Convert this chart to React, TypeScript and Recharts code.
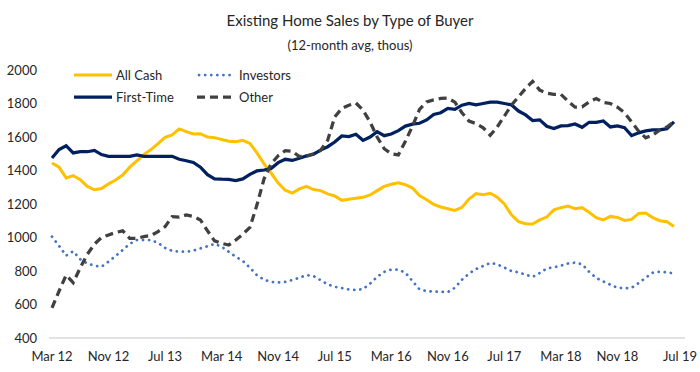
import React from "react";
import { LineChart, Line, XAxis, YAxis } from "recharts";

const months = ["Jan", "Feb", "Mar", "Apr", "May", "Jun", "Jul", "Aug", "Sep", "Oct", "Nov", "Dec"];

const allCash = [
  1445, 1420, 1355, 1370, 1345, 1305, 1285, 1292, 1320, 1343,
  1373, 1420, 1457, 1495, 1525, 1560, 1598, 1612, 1648, 1632,
  1618, 1620, 1600, 1596, 1585, 1575, 1572, 1580, 1562, 1505,
  1440, 1385, 1325, 1282, 1265, 1290, 1305, 1286, 1280, 1260,
  1248, 1222, 1228, 1234, 1240, 1254, 1280, 1305, 1318, 1326,
  1315, 1295, 1250, 1225, 1198, 1182, 1172, 1162, 1180, 1230,
  1262, 1256, 1264, 1240, 1200, 1135, 1095, 1082, 1080, 1105,
  1122, 1165, 1178, 1188, 1172, 1178, 1150, 1118, 1105, 1126,
  1120, 1102, 1108, 1144, 1146, 1118, 1100, 1094, 1066,
];

const investors = [
  1005, 950, 892, 918, 870, 845, 832, 826, 856, 890,
  925, 962, 985, 985, 985, 968, 938, 920, 915, 915,
  922, 935, 948, 962, 945, 915, 885, 860, 820, 775,
  748, 735, 732, 735, 746, 760, 775, 770, 745, 720,
  706, 698, 690, 686, 692, 725, 765, 795, 808, 808,
  790, 740, 690, 680, 677, 676, 674, 700, 748, 785,
  812, 830, 848, 840, 820, 800, 792, 778, 765, 788,
  815, 822, 832, 845, 850, 840, 795, 758, 738, 718,
  700, 697, 700, 728, 760, 790, 796, 792, 785,
];

const firstTime = [
  1475, 1525, 1548, 1505, 1512, 1512, 1520, 1495, 1485, 1485,
  1485, 1485, 1493, 1485, 1485, 1485, 1485, 1485, 1467, 1458,
  1448, 1420, 1375, 1350, 1348, 1347, 1340, 1350, 1377, 1398,
  1403, 1412, 1447, 1467, 1460, 1473, 1487, 1497, 1522, 1542,
  1570, 1606, 1602, 1616, 1580, 1600, 1632, 1608, 1618, 1638,
  1665, 1677, 1682, 1702, 1735, 1745, 1771, 1765, 1790, 1800,
  1792, 1800, 1808, 1808, 1800, 1792, 1755, 1732, 1698, 1702,
  1664, 1650, 1666, 1668, 1678, 1658, 1688, 1688, 1696, 1660,
  1666, 1655, 1608, 1625, 1636, 1642, 1642, 1650, 1690,
];

const other = [
  580, 680, 775, 730, 820, 900, 960, 1000, 1015, 1030,
  1040, 995, 995, 1005, 1012, 1035, 1065, 1125, 1122, 1135,
  1125, 1105, 1040, 980, 965, 955, 985, 1020, 1060, 1195,
  1350, 1440, 1488, 1518, 1515, 1483, 1485, 1500, 1520, 1580,
  1720, 1770, 1790, 1803, 1760, 1690, 1600, 1530, 1500, 1493,
  1575, 1665, 1765, 1810, 1822, 1830, 1832, 1808, 1745, 1695,
  1680, 1655, 1610, 1660, 1725, 1790, 1840, 1890, 1932, 1880,
  1862, 1855, 1855, 1815, 1778, 1780, 1810, 1830, 1806, 1800,
  1778, 1745, 1690, 1635, 1595, 1612, 1642, 1660, 1692,
];

const yTicks = [400, 600, 800, 1000, 1200, 1400, 1600, 1800, 2000];

const seriesNames = ["All Cash", "Investors", "First-Time", "Other"];

// Months from Mar 2012
const labels = allCash.map((_, i) => {
  const m = (2 + i) % 12;
  const y = 12 + Math.floor((2 + i) / 12);
  return `${months[m]} ${y}`;
});

const data = labels.map((label, i) => ({
  label,
  allCash: allCash[i],
  investors: investors[i],
  firstTime: firstTime[i],
  other: other[i],
}));

const FONT = "Lato, 'Liberation Sans', sans-serif";
const TEXT = "#262626";

const STYLES = [
  { key: "allCash", color: "#FFC000", width: 3, dash: undefined as string | undefined, cap: "butt" },
  { key: "investors", color: "#4472C4", width: 2.75, dash: "0.1 6", cap: "round" },
  { key: "firstTime", color: "#002060", width: 3.25, dash: undefined, cap: "butt" },
  { key: "other", color: "#404040", width: 3.25, dash: "8 5", cap: "butt" },
];

const XTick = (props: any) => {
  const { x, y, payload } = props;
  const isLast = payload && payload.index === labels.length - 1;
  return (
    <text
      x={x + (isLast ? 6 : 0)}
      y={y}
      dy="0.71em"
      textAnchor="middle"
      fontSize={13}
      fontFamily={FONT}
      fill={TEXT}
    >
      {payload.value}
    </text>
  );
};

const LegendSwatch = ({ color, dash, width, cap }: any) => (
  <svg width={40} height={8} style={{ display: "block" }}>
    <line
      x1={cap === "round" ? 2 : 0}
      y1={4}
      x2={38}
      y2={4}
      stroke={color}
      strokeWidth={width}
      strokeDasharray={dash}
      strokeLinecap={cap}
    />
  </svg>
);

const ChartLegend = () => (
  <div
    style={{
      position: "absolute",
      left: 74,
      top: 67,
      display: "grid",
      gridTemplateColumns: "123px 120px",
      rowGap: 6,
      fontFamily: FONT,
      fontSize: 13,
      color: TEXT,
    }}
  >
    {STYLES.map((s, i) => (
      <div key={s.key} style={{ display: "flex", alignItems: "center", height: 16 }}>
        <LegendSwatch color={s.color} dash={s.dash} width={s.width} cap={s.cap} />
        <span style={{ marginLeft: 2 }}>{seriesNames[i]}</span>
      </div>
    ))}
  </div>
);

export default function App() {
  return (
    <div style={{ position: "absolute", left: 0, top: 0, width: 700, height: 372, background: "#fff" }}>
      <div
        style={{
          position: "absolute",
          left: 0,
          width: 700,
          top: 10,
          textAlign: "center",
          fontFamily: FONT,
          fontSize: 15,
          color: TEXT,
          lineHeight: "20px",
        }}
      >
        Existing Home Sales by Type of Buyer
      </div>
      <div
        style={{
          position: "absolute",
          left: 0,
          width: 700,
          top: 36,
          textAlign: "center",
          fontFamily: FONT,
          fontSize: 13,
          color: TEXT,
          lineHeight: "18px",
        }}
      >
        (12-month avg, thous)
      </div>
      <LineChart
        width={700}
        height={372}
        data={data}
        margin={{ top: 70, right: 15, bottom: 0, left: 0 }}
      >
        <XAxis
          dataKey="label"
          interval={7}
          padding={{ left: 3, right: 11 }}
          tickLine={false}
          tickMargin={8}
          height={34}
          axisLine={{ stroke: "#D9D9D9", strokeWidth: 1.5 }}
          tick={<XTick />}
        />
        <YAxis
          domain={[400, 2000]}
          ticks={yTicks}
          width={49}
          axisLine={false}
          tickLine={false}
          tickMargin={6}
          tick={{ fontSize: 13, fontFamily: FONT, fill: TEXT }}
        />
        {STYLES.map((s, i) => (
          <Line
            key={s.key}
            dataKey={s.key}
            name={seriesNames[i]}
            stroke={s.color}
            strokeWidth={s.width}
            strokeDasharray={s.dash}
            strokeLinecap={s.cap as any}
            dot={false}
            isAnimationActive={false}
          />
        ))}
      </LineChart>
      <ChartLegend />
    </div>
  );
}
